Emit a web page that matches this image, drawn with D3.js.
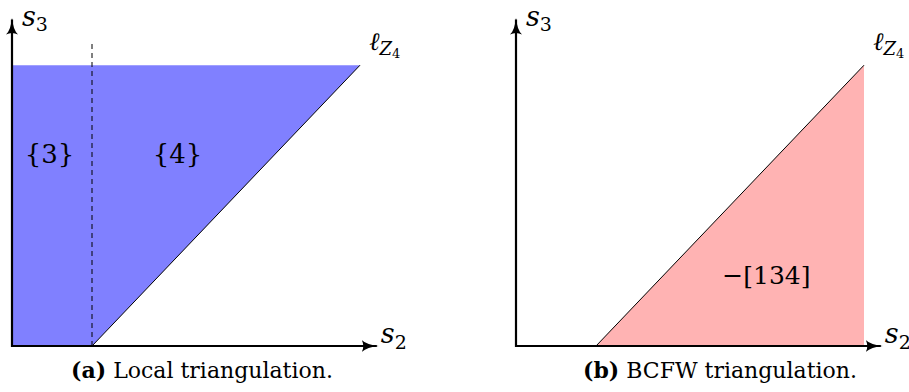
<!DOCTYPE html>
<html>
  <head>
    <meta charset="utf-8" />
    <title>Triangulations</title>
    <script src="https://cdn.jsdelivr.net/npm/d3@7"></script>
    <style>
      body { margin: 0; background: #fff; }
      svg text { font-family: "DejaVu Serif", "Liberation Serif", serif; fill: #000; }
      svg text.math { font-family: "DejaVu Serif", serif; font-style: italic; }
    </style>
  </head>
  <body>
    <svg width="909" height="392"></svg>
    <script>
      // data (abstract units, s2 horizontal / s3 vertical)
      const axisMax = { s2: 4.56, s3: 4.08 };
      const lineZ4 = [{ s2: 1, s3: 0 }, { s2: 4.35, s3: 3.51 }];
      const splitS2 = 1;           // dashed divider in (a)
      const dashTop = 3.8;
      const regionLabels = ["{3}", "{4}"];
      const regionPos = [{ s2: 0.47, s3: 2.4 }, { s2: 2.07, s3: 2.4 }];
      const bcfwLabel = "\u2212[134]";
      const bcfwPos = { s2: 3.13, s3: 0.89 };
      const captions = [["(a)", " Local triangulation."], ["(b)", " BCFW triangulation."]];
      const captionX = [202, 720];

      const svg = d3.select("svg");
      const panelX0 = [12, 516];

      // arrow marker
      const defs = svg.append("defs");
      defs.append("marker")
        .attr("id", "arr")
        .attr("viewBox", "0 -6 17 12")
        .attr("refX", 15)
        .attr("refY", 0)
        .attr("markerWidth", 17)
        .attr("markerHeight", 12)
        .attr("markerUnits", "userSpaceOnUse")
        .attr("orient", "auto")
        .append("path")
        .attr("d", "M0,-6 Q5,-1 17,0 Q5,1 0,6 Q3,0 0,-6Z")
        .attr("fill", "#000");

      function panel(i) {
        const x = d3.scaleLinear().domain([0, 1]).range([panelX0[i], panelX0[i] + 80]);
        const y = d3.scaleLinear().domain([0, 1]).range([346, 266]);
        const g = svg.append("g");

        if (i === 0) {
          // blue region left of the line, below top
          const top = lineZ4[1].s3;
          const poly = [[0, 0], [lineZ4[0].s2, 0], [lineZ4[1].s2, top], [0, top]];
          g.append("path")
            .attr("d", d3.line().x((d) => x(d[0])).y((d) => y(d[1]))(poly) + "Z")
            .attr("fill", "#8080ff");
          g.append("line")
            .attr("x1", x(splitS2)).attr("x2", x(splitS2))
            .attr("y1", y(0)).attr("y2", y(dashTop))
            .attr("stroke", "#000").attr("stroke-width", 1)
            .attr("stroke-dasharray", "5,4");
          regionLabels.forEach((t, k) => {
            g.append("text")
              .attr("x", x(regionPos[k].s2)).attr("y", y(regionPos[k].s3))
              .attr("text-anchor", "middle").attr("dy", "0.35em")
              .attr("font-size", 26).text(t);
          });
        } else {
          const poly = [[lineZ4[0].s2, 0], [lineZ4[1].s2, lineZ4[1].s3], [lineZ4[1].s2, 0]];
          g.append("path")
            .attr("d", d3.line().x((d) => x(d[0])).y((d) => y(d[1]))(poly) + "Z")
            .attr("fill", "#ffb3b3");
          g.append("text")
            .attr("x", x(bcfwPos.s2)).attr("y", y(bcfwPos.s3))
            .attr("text-anchor", "middle").attr("dy", "0.35em")
            .attr("font-size", 25).text(bcfwLabel);
        }

        // the line l_Z4
        g.append("path")
          .datum(lineZ4)
          .attr("d", d3.line().x((d) => x(d.s2)).y((d) => y(d.s3)))
          .attr("stroke", "#000").attr("stroke-width", 1).attr("fill", "none");

        // axes
        g.append("line")
          .attr("x1", x(0)).attr("y1", y(0)).attr("x2", x(axisMax.s2)).attr("y2", y(0))
          .attr("stroke", "#000").attr("stroke-width", 2.2).attr("marker-end", "url(#arr)");
        g.append("line")
          .attr("x1", x(0)).attr("y1", y(0) + 1).attr("x2", x(0)).attr("y2", y(axisMax.s3))
          .attr("stroke", "#000").attr("stroke-width", 2.2).attr("marker-end", "url(#arr)");

        // axis labels
        const s3 = g.append("text").attr("class", "math")
          .attr("x", x(0) + 10).attr("y", y(axisMax.s3) + 6).attr("font-size", 27);
        s3.append("tspan").text("s");
        s3.append("tspan").attr("font-style", "normal").attr("font-size", 19).attr("dy", 5).text("3");

        const s2 = g.append("text").attr("class", "math")
          .attr("x", x(axisMax.s2) + 4).attr("y", y(0) - 3).attr("font-size", 27);
        s2.append("tspan").text("s");
        s2.append("tspan").attr("font-style", "normal").attr("font-size", 19).attr("dy", 6).text("2");

        // line label
        const lz = g.append("text").attr("class", "math")
          .attr("x", x(lineZ4[1].s2) + 9).attr("y", y(lineZ4[1].s3) - 15).attr("font-size", 25);
        lz.append("tspan").text("\u2113");
        lz.append("tspan").attr("font-size", 18).attr("dy", 5).text("Z");
        lz.append("tspan").attr("font-style", "normal").attr("font-size", 13).attr("dy", 3).text("4");

        // caption
        const cap = g.append("text")
          .attr("x", captionX[i]).attr("y", 378)
          .attr("text-anchor", "middle").attr("font-size", 22);
        cap.append("tspan").attr("font-weight", "bold").text(captions[i][0]);
        cap.append("tspan").text(captions[i][1]);
      }

      panel(0);
      panel(1);
    </script>
  </body>
</html>
